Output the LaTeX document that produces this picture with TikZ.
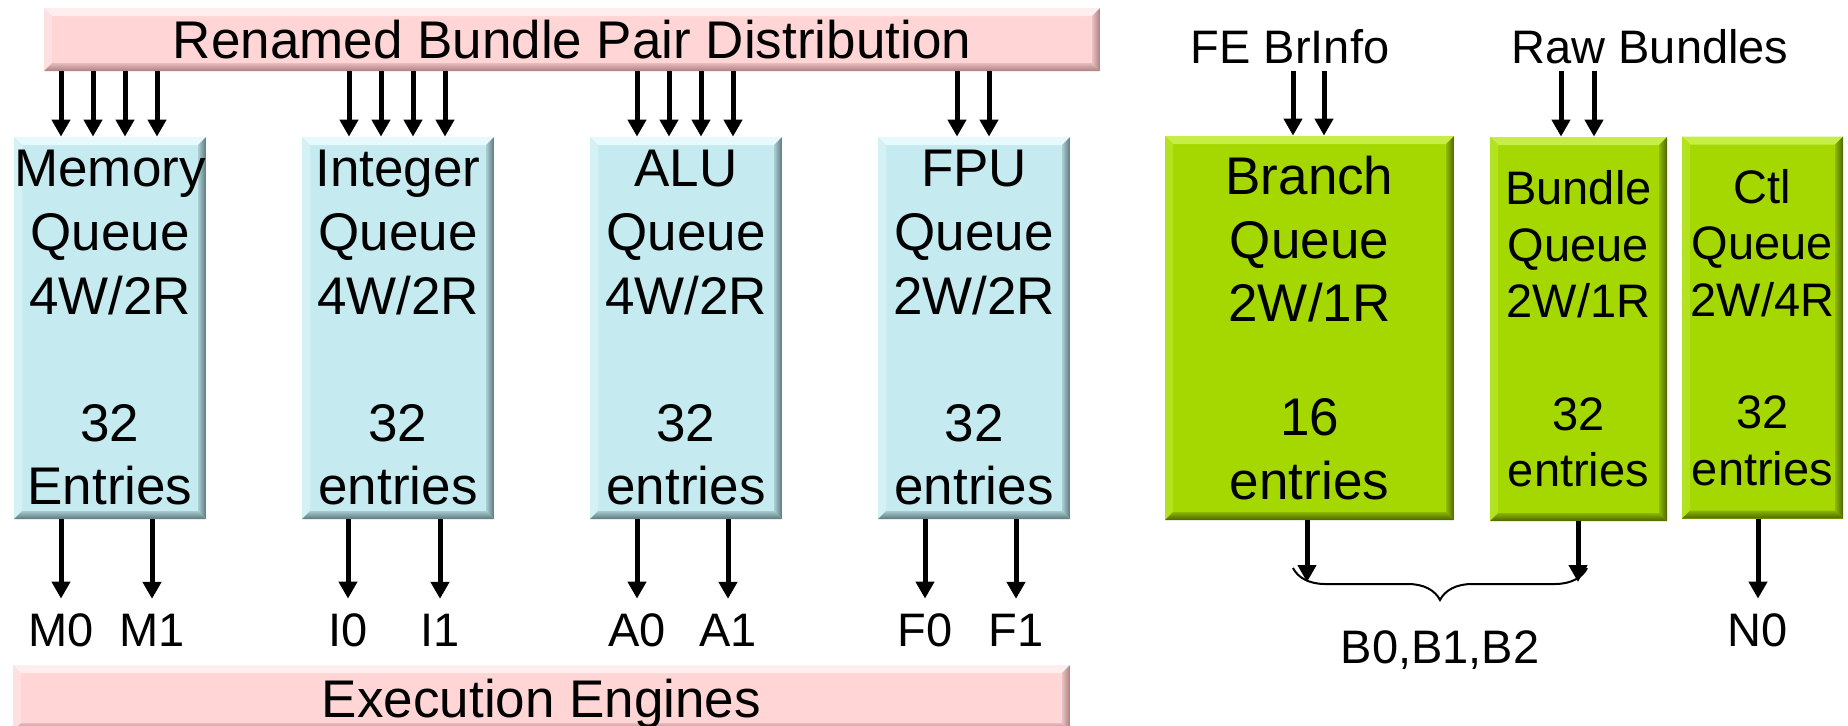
\documentclass[tikz,border=0pt]{standalone}
\usepackage{fontspec}
\setmainfont{Liberation Sans}
\usetikzlibrary{calc,arrows.meta,decorations.pathreplacing}

\definecolor{qblue}{RGB}{197,235,240}
\definecolor{qblueL}{RGB}{230,249,251}
\definecolor{qblueD}{RGB}{92,120,124}
\definecolor{qpink}{RGB}{255,213,213}
\definecolor{qpinkL}{RGB}{255,238,238}
\definecolor{qpinkD}{RGB}{170,128,128}
\definecolor{qgreen}{RGB}{164,216,0}
\definecolor{qgreenL}{RGB}{198,238,70}
\definecolor{qgreenD}{RGB}{76,102,0}

\newcommand{\qbig}{\fontsize{26.5}{31.8}\selectfont}
\newcommand{\qsmall}{\fontsize{23.5}{28.2}\selectfont}

\tikzset{
  % flat box with a bevelled rim: base colour, highlight, shadow
  bevel/.style n args={3}{
    fill=#1, inner sep=0pt,
    path picture={
      \coordinate (pNW) at (path picture bounding box.north west);
      \coordinate (pNE) at (path picture bounding box.north east);
      \coordinate (pSW) at (path picture bounding box.south west);
      \coordinate (pSE) at (path picture bounding box.south east);
      \fill[#2] (pNW) -- (pNE) -- ($(pNE)+(-4pt,-4pt)$) -- ($(pNW)+(4pt,-4pt)$) -- cycle;
      \fill[#2!45!#1] (pNW) -- ($(pNW)+(4pt,-4pt)$) -- ($(pSW)+(4pt,4pt)$) -- (pSW) -- cycle;
      \shade[left color=#1!75!#3, right color=#3] (pNE) -- (pSE) -- ($(pSE)+(-4pt,4pt)$) -- ($(pNE)+(-4pt,-4pt)$) -- cycle;
      \shade[top color=#1!70!#3, bottom color=#3] (pSW) -- (pSE) -- ($(pSE)+(-4pt,4pt)$) -- ($(pSW)+(4pt,4pt)$) -- cycle;
    }
  },
  pbox/.style={bevel={qpink}{qpinkL}{qpinkD}, font=\qbig, text depth=0pt,
    minimum width=528pt, minimum height=31.5pt},
  qbox/.style={bevel={qblue}{qblueL}{qblueD}, font=\qbig, align=center,
    minimum width=96pt, minimum height=191pt},
  gbox/.style={bevel={qgreen}{qgreenL}{qgreenD}, align=center,
    minimum height=192pt},
  arr/.style={line width=2.5pt, -{Triangle[width=9pt,length=8.5pt]}},
  lbl/.style={font=\qsmall, inner sep=0pt, outer sep=7.5pt, text depth=0pt},
  toplbl/.style={font=\qsmall, inner sep=0pt, outer sep=3.5pt},
  brc/.style={decorate, decoration={brace, amplitude=16pt, mirror}, line width=1pt},
}

\begin{document}
\begin{tikzpicture}[x=0.5pt, y=-0.5pt]
\useasboundingbox (0,0) rectangle (1848,725);

% distribution and execution banners
\node[pbox] (dist) at (572,39.5) {Renamed Bundle Pair Distribution};
\node[pbox, minimum width=528.5pt, minimum height=33pt] (exec) at (541.5,698) {Execution Engines};

% issue queues
\node[qbox] (mem) at (110,328) {Memory\\Queue\\4W/2R\\[31.8pt]32\\Entries};
\node[qbox] (int) at (398,328) {Integer\\Queue\\4W/2R\\[31.8pt]32\\entries};
\node[qbox] (alu) at (686,328) {ALU\\Queue\\4W/2R\\[31.8pt]32\\entries};
\node[qbox] (fpu) at (974,328) {FPU\\Queue\\2W/2R\\[31.8pt]32\\entries};

% front-end queues
\node[gbox, font=\qbig, minimum width=144.5pt] (br) at (1309.5,328)
  {Branch\\Queue\\2W/1R\\[25pt]16\\entries};
\node[gbox, font=\qsmall, minimum width=88.5pt] (bq) at (1578.5,329)
  {Bundle\\Queue\\2W/1R\\[28.2pt]32\\entries};
\node[gbox, font=\qsmall, minimum width=80.5pt, minimum height=191pt] (ctl) at (1762.5,327.5)
  {Ctl\\Queue\\2W/4R\\[28.2pt]32\\entries};

% writes from the distribution banner
\foreach \q in {mem,int,alu}
  \foreach \d in {-24.5,-8.5,7.5,23.5}
    \draw[arr] ([xshift=\d pt]\q.north |- dist.south) -- ([xshift=\d pt]\q.north);
\foreach \d in {-8.5,7.5}
  \draw[arr] ([xshift=\d pt]fpu.north |- dist.south) -- ([xshift=\d pt]fpu.north);

% front-end inputs
\node[toplbl] (fe) at (1290,47) {FE BrInfo};
\node[toplbl] (raw) at (1650,47) {Raw Bundles};
\foreach \d in {-8.25,7.25}
  \draw[arr] ([xshift=\d pt]br.north |- fe.south) -- ([xshift=\d pt]br.north);
\foreach \d in {-8.75,7.75}
  \draw[arr] ([xshift=\d pt]bq.north |- raw.south) -- ([xshift=\d pt]bq.north);

% read ports
\node[lbl] (m0) at (61,630) {M0};
\node[lbl] (m1) at (152,630) {M1};
\node[lbl] (i0) at (348,630) {I0};
\node[lbl] (i1) at (440,630) {I1};
\node[lbl] (a0) at (637,630) {A0};
\node[lbl] (a1) at (728,630) {A1};
\node[lbl] (f0) at (925,630) {F0};
\node[lbl] (f1) at (1016,630) {F1};
\node[lbl] (n0) at (1758,630) {N0};

\draw[arr] (mem.south -| m0) -- (m0.north);
\draw[arr] (mem.south -| m1) -- (m1.north);
\draw[arr] (int.south -| i0) -- (i0.north);
\draw[arr] (int.south -| i1) -- (i1.north);
\draw[arr] (alu.south -| a0) -- (a0.north);
\draw[arr] (alu.south -| a1) -- (a1.north);
\draw[arr] (fpu.south -| f0) -- (f0.north);
\draw[arr] (fpu.south -| f1) -- (f1.north);
\draw[arr] (ctl.south -| n0) -- (n0.north);

% branch and bundle reads merge into one group
\coordinate (braceL) at (1293,568);
\coordinate (braceR) at (1587,568);
\coordinate (tipB) at (1307,582);
\coordinate (tipU) at (1578,582);
\draw[arr] (br.south -| tipB) -- (tipB);
\draw[arr] (bq.south -| tipU) -- (tipU);
\draw[brc] (braceL) -- (braceR);
\node[lbl] (bgrp) at (1440,647) {B0,B1,B2};
\end{tikzpicture}
\end{document}
